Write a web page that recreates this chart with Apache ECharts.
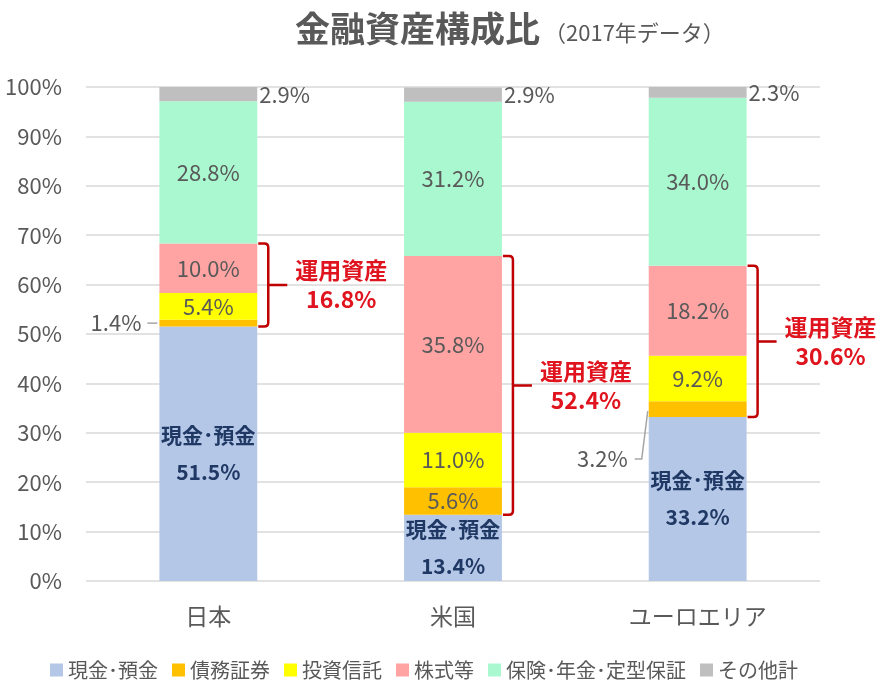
<!DOCTYPE html>
<html><head><meta charset="utf-8">
<script src="https://cdn.jsdelivr.net/npm/echarts@6/dist/echarts.min.js"></script>
<style>html,body{margin:0;padding:0;background:#fff}#c{width:891px;height:681px}</style>
</head><body><div id="c"></div>
<script>
const categories = ['日本', '米国', 'ユーロエリア'];
const seriesNames = ['現金･預金', '債務証券', '投資信託', '株式等', '保険･年金･定型保証', 'その他計'];
const cash = [51.5, 13.4, 33.2];
const bonds = [1.4, 5.6, 3.2];
const trusts = [5.4, 11.0, 9.2];
const stocks = [10.0, 35.8, 18.2];
const insurance = [28.8, 31.2, 34.0];
const others = [2.9, 2.9, 2.3];
const yTicks = [0, 10, 20, 30, 40, 50, 60, 70, 80, 90, 100];
const bondsOutside = [true, false, true];

const colors = ['#B4C7E7', '#FFC000', '#FFFF00', '#FFA3A3', '#AAF8D0', '#BFBFBF'];
const FONT = '"Noto Sans CJK JP", "Noto Sans", sans-serif';
const GRAY = '#595959';
const BAR_FRAC = 0.4;
const leaderDy = [0, 0, 50];

const values = [cash, bonds, trusts, stocks, insurance, others];

const barSeries = values.map((arr, si) => {
  const s = {
    name: seriesNames[si], type: 'bar', stack: 'total', barWidth: (BAR_FRAC * 100) + '%',
    itemStyle: { color: colors[si] },
    label: { show: true, position: 'inside', color: GRAY, fontSize: 22, fontFamily: FONT,
      formatter: p => p.value.toFixed(1) + '%' },
    data: arr.map((v, i) => (si === 1 && bondsOutside[i]) ? { value: v, label: { show: false } } : v)
  };
  if (si === 0) {
    s.label = { show: true, position: 'inside', fontFamily: FONT,
      formatter: p => '{n|' + seriesNames[0] + '}\n{v|' + p.value.toFixed(1) + '%}',
      rich: {
        n: { color: '#1F3864', fontSize: 21, fontWeight: 'bold', fontFamily: FONT, lineHeight: 37 },
        v: { color: '#1F3864', fontSize: 21, fontWeight: 'bold', fontFamily: FONT, lineHeight: 37 }
      } };
  }
  if (si === 5) {
    s.label = { show: true, position: 'right', distance: 2, color: GRAY, fontSize: 22, fontFamily: FONT,
      formatter: p => p.value.toFixed(1) + '%' };
  }
  return s;
});

// bracket data: [catIndex, low, high, total]
const bracketData = categories.map((c, i) => {
  const tot = bonds[i] + trusts[i] + stocks[i];
  return [i, cash[i], cash[i] + tot, tot];
});
// outside leader labels: [catIndex, center, value]
const leaderData = categories.map((c, i) => [i, cash[i] + bonds[i] / 2, bonds[i]]).filter((d, i) => bondsOutside[i]);

const bracketSeries = {
  type: 'custom', name: 'bracket', silent: true, z: 10,
  data: bracketData, encode: { x: 0, y: [1, 2] },
  renderItem: (params, api) => {
    const idx = api.value(0);
    const half = api.size([1, 0])[0] * BAR_FRAC / 2;
    const pLow = api.coord([idx, api.value(1)]);
    const pHigh = api.coord([idx, api.value(2)]);
    const xr = pLow[0] + half;
    const x0 = xr + 1, xv = xr + 11, xt = xr + 30, r = 4;
    const top = pHigh[1], bot = pLow[1], mid = (top + bot) / 2;
    const d = `M${x0} ${top} L${xv - r} ${top} Q${xv} ${top} ${xv} ${top + r} L${xv} ${bot - r} Q${xv} ${bot} ${xv - r} ${bot} L${x0} ${bot} M${xv} ${mid} L${xt} ${mid}`;
    return { type: 'group', children: [
      { type: 'path', shape: { pathData: d }, style: { fill: null, stroke: '#C00000', lineWidth: 2.5 } },
      { type: 'text', x: xr + 84, y: mid, style: {
        text: '運用資産\n' + api.value(3).toFixed(1) + '%', fill: '#E0141E', font: 'bold 23px ' + FONT,
        align: 'center', verticalAlign: 'middle', lineHeight: 29 } }
    ] };
  }
};

const leaderSeries = {
  type: 'custom', name: 'leader', silent: true, z: 10,
  data: leaderData, encode: { x: 0, y: 1 },
  renderItem: (params, api) => {
    const idx = api.value(0);
    const half = api.size([1, 0])[0] * BAR_FRAC / 2;
    const p = api.coord([idx, api.value(1)]);
    const xl = p[0] - half;
    const dy = leaderDy[idx];
    let d, tx;
    if (dy === 0) { d = `M${xl - 12} ${p[1]} L${xl - 2} ${p[1]}`; tx = xl - 18; }
    else { d = `M${xl - 14} ${p[1] + dy} L${xl - 7} ${p[1] + dy} L${xl - 1} ${p[1] + 2}`; tx = xl - 21; }
    return { type: 'group', children: [
      { type: 'path', shape: { pathData: d }, style: { fill: null, stroke: '#A6A6A6', lineWidth: 1.5 } },
      { type: 'text', x: tx, y: p[1] + dy, style: { text: api.value(2).toFixed(1) + '%', fill: GRAY,
        font: '22px ' + FONT, align: 'right', verticalAlign: 'middle' } }
    ] };
  }
};

const chart = echarts.init(document.getElementById('c'));
chart.setOption({
  animation: false,
  title: { left: 290, top: 6, text: '{a|金融資産構成比}{b|（2017年データ）}',
    textStyle: { rich: {
      a: { fontSize: 35, fontWeight: 'bold', color: GRAY, fontFamily: FONT },
      b: { fontSize: 22, fontWeight: 'normal', color: GRAY, fontFamily: FONT, padding: [8, 0, 0, 4] }
    } } },
  legend: { top: 655, left: 45, itemWidth: 13, itemHeight: 13, itemGap: 14,
    icon: 'rect', data: seriesNames, textStyle: { color: GRAY, fontSize: 20, fontFamily: FONT } },
  grid: { left: 86, right: 71, top: 87, bottom: 100 },
  xAxis: { type: 'category', data: categories,
    axisLine: { show: false }, axisTick: { show: false },
    axisLabel: { color: GRAY, fontSize: 23, fontFamily: FONT, margin: 24 } },
  yAxis: { type: 'value', min: yTicks[0], max: yTicks[yTicks.length - 1], interval: yTicks[1] - yTicks[0],
    axisLabel: { color: GRAY, fontSize: 22, fontFamily: FONT, margin: 24, formatter: '{value}%' },
    splitLine: { lineStyle: { color: '#D9D9D9', width: 1.5 } },
    axisLine: { show: false }, axisTick: { show: false } },
  series: [...barSeries, bracketSeries, leaderSeries]
});
</script></body></html>
